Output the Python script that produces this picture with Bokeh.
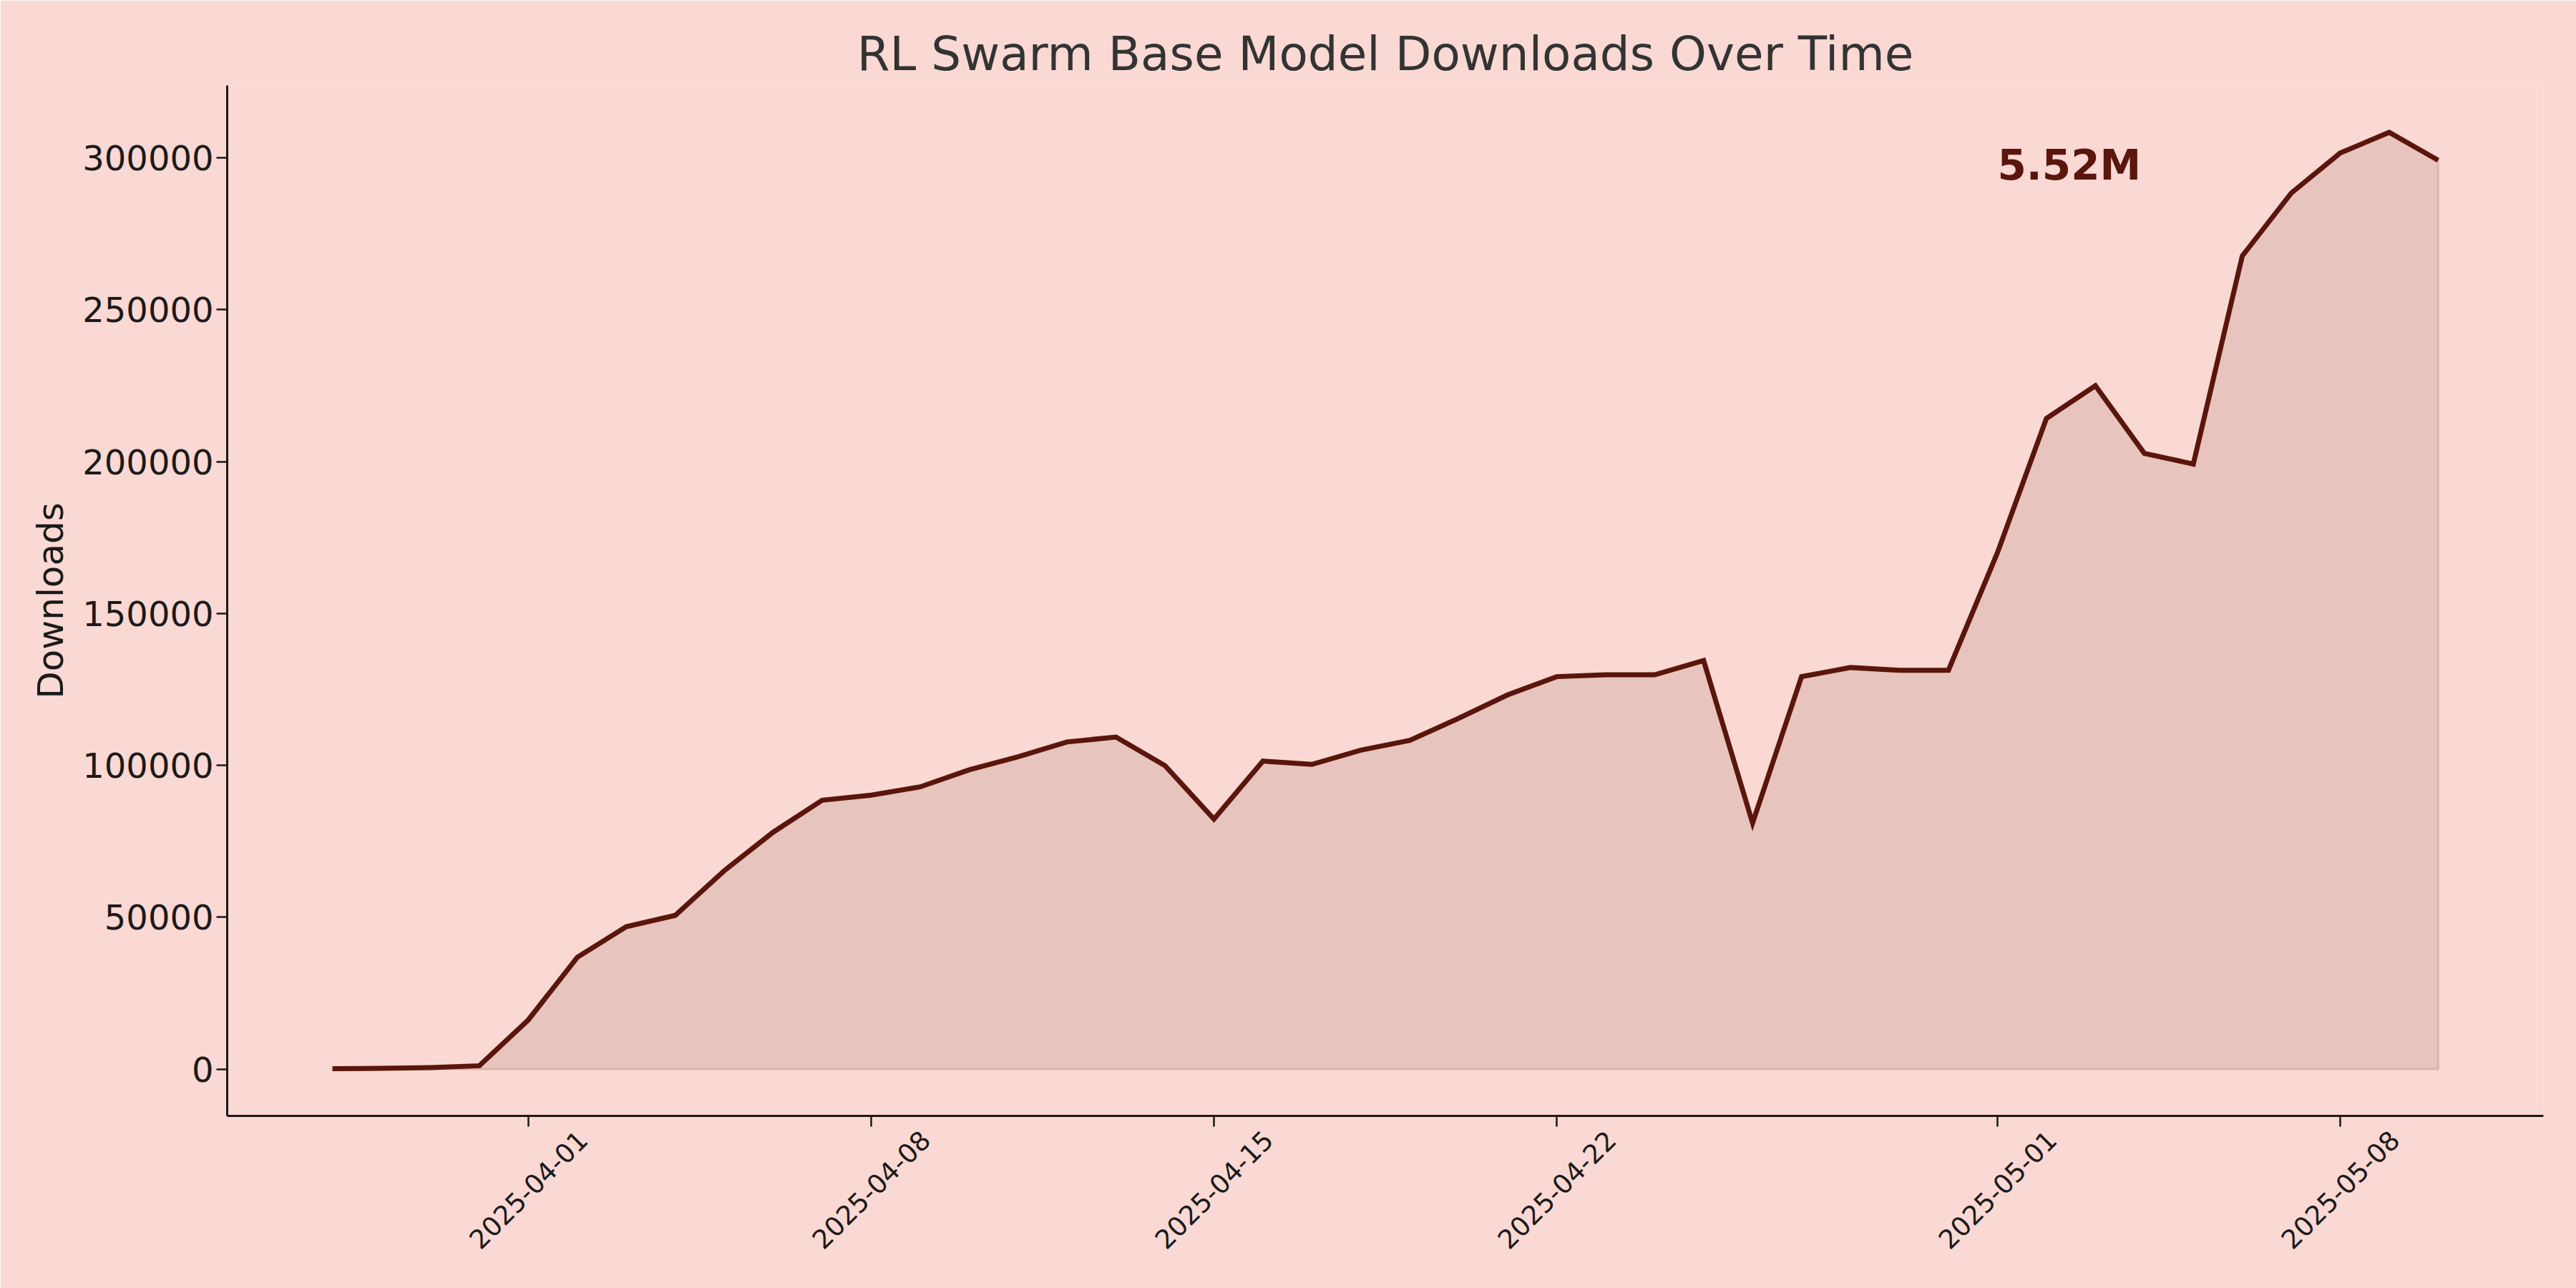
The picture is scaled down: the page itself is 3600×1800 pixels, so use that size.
import pandas as pd
from bokeh.plotting import figure
from bokeh.models import FixedTicker, BasicTickFormatter, Label
from bokeh.embed import file_html
from bokeh.resources import INLINE

# daily downloads, starting 2025-03-28
start_date = "2025-03-28"
downloads = [100, 250, 500, 1100,
             16200, 36800, 46900, 50600, 65300, 78000, 88500, 90200, 92900, 98500,
             102800, 107700, 109300, 99900, 82300, 101400, 100300, 105000, 108200, 115500,
             123200, 129200, 129800, 129800, 134500, 81000, 129200, 132200, 131300, 131300,
             170000, 214200, 225000, 202700, 199200, 267700, 288400, 301600, 308400, 299200]

x_tick_dates = ["2025-04-01", "2025-04-08", "2025-04-15", "2025-04-22", "2025-05-01", "2025-05-08"]
y_ticks = [0, 50000, 100000, 150000, 200000, 250000, 300000]

total_label = "5.52M"
label_date = "2025-05-01"

BG = "#fad8d3"
LINE = "#5a160c"
FILL = "#e8c4be"
INK = "#1a1a1a"
FONT = "DejaVu Sans"

W, H = 3600, 1800
LEFT, RIGHT, TOP, BOTTOM = 317, 46, 119, 241


def ms(d):
    return pd.Timestamp(d).timestamp() * 1000


dates = pd.date_range(start_date, periods=len(downloads), freq="D")
ymax = max(downloads)

pad_x = (dates[-1] - dates[0]) * 0.05
pad_y = ymax * 0.05
x0, x1 = dates[0] - pad_x, dates[-1] + pad_x

p = figure(x_axis_type="datetime", width=W, height=H,
           x_range=(x0, x1), y_range=(-pad_y, ymax + pad_y),
           output_backend="svg", toolbar_location=None,
           min_border_left=LEFT, min_border_right=RIGHT,
           min_border_top=TOP, min_border_bottom=BOTTOM,
           background_fill_color=BG, border_fill_color=BG,
           outline_line_color=None,
           title="RL Swarm Base Model Downloads Over Time")

p.title.align = "center"
p.title.text_font = FONT
p.title.text_font_size = "66px"
p.title.text_font_style = "normal"
p.title.text_color = "#333333"
p.title.standoff = 12

p.xgrid.grid_line_color = None
p.ygrid.grid_line_color = None

# shaded area under the curve, with faint edge
px = list(dates) + list(dates[::-1])
py = downloads + [0] * len(downloads)
p.patch(px, py, fill_color=FILL, line_color="#deb5af", line_width=3)
p.line(dates, downloads, line_color=LINE, line_width=7, line_join="miter")

p.add_layout(Label(x=ms(label_date), y=ymax * 0.965,
                   text=total_label, text_font=FONT, text_font_size="58px",
                   text_font_style="bold", text_color=LINE,
                   text_align="left", text_baseline="middle"))

# bokeh anchors rotated labels by their end; move the label anchors so the
# labels sit centred under the real ticks (drawn here as "minor" ticks)
px_per_ms = (W - LEFT - RIGHT) / ((x1 - x0).total_seconds() * 1000)
shift = 76 / px_per_ms
real_ticks = [ms(d) for d in x_tick_dates]
label_ticks = [t + shift for t in real_ticks]

xa = p.xaxis[0]
xa.ticker = FixedTicker(ticks=label_ticks, minor_ticks=real_ticks)
xa.major_label_overrides = {t: d for t, d in zip(label_ticks, x_tick_dates)}
xa.major_label_orientation = 0.785398
xa.major_label_text_font_size = "37px"
xa.major_tick_line_color = None
xa.major_tick_out = 15
xa.minor_tick_line_color = INK
xa.minor_tick_line_width = 2.5
xa.minor_tick_out = 15
xa.minor_tick_in = 0
xa.major_label_standoff = 12

ya = p.yaxis[0]
ya.ticker = FixedTicker(ticks=y_ticks)
ya.formatter = BasicTickFormatter(use_scientific=False)
ya.major_label_text_font_size = "48px"
ya.axis_label = "Downloads"
ya.axis_label_text_font_size = "50px"
ya.axis_label_text_font_style = "normal"
ya.axis_label_standoff = 12
ya.major_tick_line_color = INK
ya.major_tick_line_width = 2.5
ya.major_tick_out = 15
ya.major_tick_in = 0
ya.minor_tick_line_color = None
ya.major_label_standoff = 4

for ax in (xa, ya):
    ax.axis_line_color = INK
    ax.axis_line_width = 3
    ax.major_label_text_font = FONT
    ax.major_label_text_color = INK
    ax.axis_label_text_font = FONT
    ax.axis_label_text_color = INK

open("out.html", "w").write(file_html(p, INLINE))
